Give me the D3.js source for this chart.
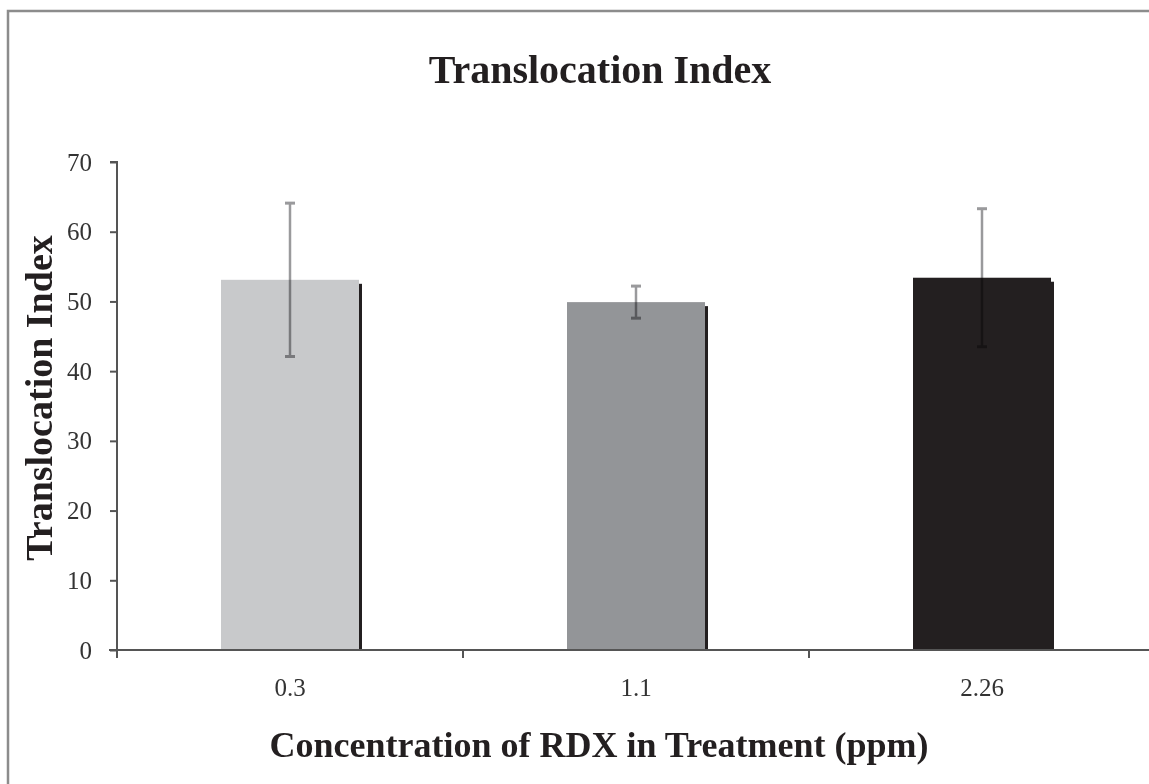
<!DOCTYPE html>
<html><head><meta charset="utf-8">
<script src="https://cdn.jsdelivr.net/npm/d3@7"></script>
<style>body{margin:0;background:#fff}</style>
</head><body>
<script>
const categories = ["0.3", "1.1", "2.26"];
const values = [53.1, 49.9, 53.4];
const errors = [11.0, 2.3, 9.9];
const colors = ["#c8c9cb", "#939598", "#231f20"];
const yTicks = [0, 10, 20, 30, 40, 50, 60, 70];
const title = "Translocation Index";
const yTitle = "Translocation Index";
const xTitle = "Concentration of RDX in Treatment (ppm)";

const W = 1149, H = 784;
const svg = d3.select("body").append("svg").attr("width", W).attr("height", H)
  .style("font-family", "'Liberation Serif','Times New Roman',serif")
  .style("isolation", "isolate");

// frame
svg.append("rect").attr("x", 8).attr("y", 11).attr("width", W + 20).attr("height", H + 20)
  .attr("fill", "none").attr("stroke", "#8c8c8c").attr("stroke-width", 2.5);

const x0 = 117, yBase = 650, yTop = 162;
const x = d3.scaleBand().domain(categories).range([x0, x0 + 346 * 3]).paddingInner(0).paddingOuter(0);
const y = d3.scaleLinear().domain([0, 70]).range([yBase, yTop]);
const barW = 138;
const cx = d => x(d) + x.bandwidth() / 2;

const g = svg.append("g");

// bars
g.selectAll("rect.bar").data(categories).join("rect")
  .attr("class", "bar")
  .attr("x", d => cx(d) - barW / 2)
  .attr("y", (d, i) => y(values[i]))
  .attr("width", barW)
  .attr("height", (d, i) => y(0) - y(values[i]))
  .attr("fill", (d, i) => colors[i]);

// shadow on right side
g.selectAll("rect.shadow").data(categories).join("rect")
  .attr("class", "shadow")
  .attr("x", d => cx(d) + barW / 2)
  .attr("y", (d, i) => y(values[i]) + 4)
  .attr("width", 3)
  .attr("height", (d, i) => y(0) - y(values[i]) - 4)
  .attr("fill", "#231f20");

// error bars (multiply blend)
const errG = g.selectAll("g.err").data(categories).join("g").attr("class", "err")
  .attr("transform", d => `translate(${cx(d)},0)`)
  .style("mix-blend-mode", "multiply");
const ec = "#9a9a9c";
errG.append("line")
  .attr("y1", (d, i) => y(values[i] + errors[i]))
  .attr("y2", (d, i) => y(values[i] - errors[i]))
  .attr("stroke", ec).attr("stroke-width", 2.5);
errG.append("line").attr("x1", -5).attr("x2", 5)
  .attr("y1", (d, i) => y(values[i] + errors[i]))
  .attr("y2", (d, i) => y(values[i] + errors[i]))
  .attr("stroke", ec).attr("stroke-width", 3);
errG.append("line").attr("x1", -5).attr("x2", 5)
  .attr("y1", (d, i) => y(values[i] - errors[i]))
  .attr("y2", (d, i) => y(values[i] - errors[i]))
  .attr("stroke", ec).attr("stroke-width", 3);

// y axis
const yAxis = g.append("g").attr("transform", `translate(${x0},0)`)
  .call(d3.axisLeft(y).tickValues(yTicks).tickSize(7).tickPadding(18));
yAxis.select(".domain").attr("stroke", "#555").attr("stroke-width", 2).attr("d", `M-7,${yTop}H0V${yBase}`);
yAxis.selectAll(".tick line").attr("stroke", "#555").attr("stroke-width", 2);
yAxis.selectAll(".tick text").attr("font-size", 25).attr("fill", "#333").attr("font-family", "'Liberation Serif',serif");

// x axis
const xAxis = g.append("g").attr("transform", `translate(0,${yBase})`)
  .call(d3.axisBottom(x).tickSize(0).tickPadding(28));
xAxis.select(".domain").attr("stroke", "#555").attr("stroke-width", 2).attr("d", `M${x0 - 8},0H${W + 10}`);
xAxis.selectAll(".tick text").attr("font-size", 25).attr("fill", "#333").attr("font-family", "'Liberation Serif',serif");
// category separator ticks
g.selectAll("line.sep").data(categories).join("line").attr("class", "sep")
  .attr("x1", d => x(d)).attr("x2", d => x(d))
  .attr("y1", yBase).attr("y2", yBase + 8)
  .attr("stroke", "#555").attr("stroke-width", 2);

// titles
svg.append("text").attr("x", 600).attr("y", 83).attr("text-anchor", "middle")
  .attr("font-size", 40).attr("font-weight", "bold").attr("fill", "#231f20").text(title);
svg.append("text").attr("x", 599).attr("y", 757).attr("text-anchor", "middle")
  .attr("font-size", 36).attr("font-weight", "bold").attr("fill", "#231f20").text(xTitle);
svg.append("text").attr("transform", "translate(52,398) rotate(-90)").attr("text-anchor", "middle")
  .attr("font-size", 38).attr("font-weight", "bold").attr("fill", "#231f20").text(yTitle);
</script>
</body></html>
